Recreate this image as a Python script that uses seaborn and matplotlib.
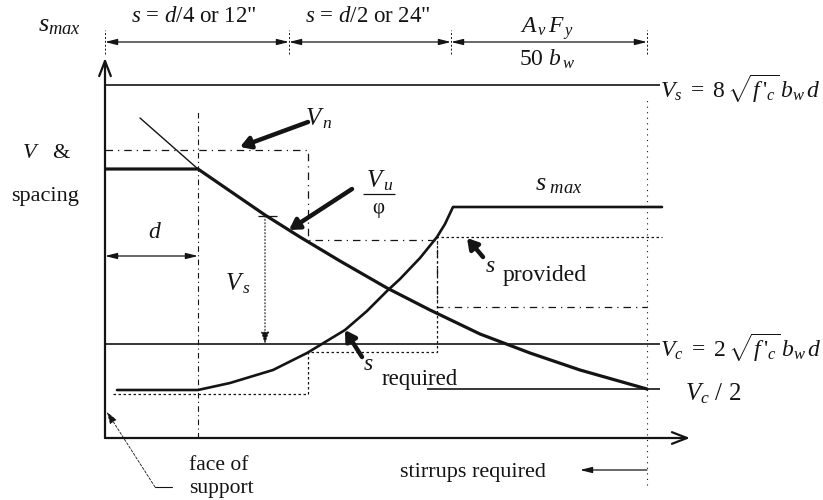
import matplotlib
matplotlib.use("Agg")
import matplotlib.pyplot as plt
import seaborn as sns

# distance along the beam (x) and shear / spacing (y), arbitrary units
vu_x = [0.0, 9.3, 12.5, 16.0, 19.5, 23.5, 28.2, 32.5, 37.5, 42.5, 47.5, 54.2]
vu_y = [26.9, 26.9, 24.7, 22.3, 20.1, 17.7, 15.0, 12.8, 10.4, 8.5, 6.8, 4.9]
vu_ext_x = [3.5, 9.3]
vu_ext_y = [32.0, 26.9]

s_req_x = [1.2, 9.3, 12.5, 16.8, 20.2, 24.0, 26.2, 28.2, 29.5, 31.5, 33.2, 34.0, 34.8, 55.7]
s_req_y = [4.8, 4.8, 5.5, 6.8, 8.5, 10.8, 12.7, 14.7, 15.9, 18.0, 20.1, 21.4, 23.1, 23.1]

vn_x = [0.0, 20.3, 20.3, 33.2, 33.2, 54.2]
vn_y = [28.8, 28.8, 19.8, 19.8, 13.1, 13.1]

s_prov_x = [0.8, 20.3, 20.3, 33.2, 33.2, 55.7]
s_prov_y = [4.4, 4.4, 8.6, 8.6, 20.1, 20.1]

vs_max = 35.3
vc = 9.4
vc_half = 4.9
d_face = 9.3
zone_x = [0.0, 18.4, 34.6, 54.2]
zone_labels = ['$s$ = $d$/4 or 12"', '$s$ = $d$/2 or 24"']
stirrup_end = 54.2

sns.set_theme(style="white")
plt.rcParams["font.family"] = ["Liberation Serif", "DejaVu Serif"]
plt.rcParams["mathtext.fontset"] = "custom"
plt.rcParams["mathtext.rm"] = "Liberation Serif"
plt.rcParams["mathtext.it"] = "Liberation Serif:italic"
plt.rcParams["mathtext.bf"] = "Liberation Serif:bold"

ink = "#141414"
fig = plt.figure(figsize=(8.23, 5.0), dpi=100)
ax = fig.add_axes([105 / 823, 62 / 500, 585 / 823, 380 / 500])
ax.set_xlim(0, 58.5)
ax.set_ylim(0, 38)
ax.axis("off")

# main curves
sns.lineplot(x=vu_x, y=vu_y, sort=False, estimator=None, color=ink, lw=2.3, ax=ax)
sns.lineplot(x=vu_ext_x, y=vu_ext_y, sort=False, estimator=None, color=ink, lw=1.0, ax=ax)
sns.lineplot(x=s_req_x, y=s_req_y, sort=False, estimator=None, color=ink, lw=1.9, ax=ax)
sns.lineplot(x=vn_x, y=vn_y, sort=False, estimator=None, color=ink, lw=0.9,
             linestyle=(0, (6, 4, 1, 4)), ax=ax)
sns.lineplot(x=s_prov_x, y=s_prov_y, sort=False, estimator=None, color=ink, lw=0.9,
             linestyle=(0, (2, 2)), ax=ax)

ax.hlines(vs_max, 0, 55.5, color=ink, lw=1.2)
ax.hlines(vc, 0, 55.5, color=ink, lw=1.2)
ax.hlines(vc_half, 32.2, 55.5, color=ink, lw=1.2)

ax.vlines(d_face, 0, 32.8, color=ink, lw=0.8, linestyles=(0, (5, 3, 1, 3)))
ax.vlines(stirrup_end, -4.7, 33.8, color=ink, lw=0.8, linestyles=(0, (1, 4)), clip_on=False)
ax.vlines(zone_x, 38.4, 40.8, color=ink, lw=0.7, linestyles=(0, (2, 2)), clip_on=False)

# axes arrows
axis_arrow = dict(arrowstyle="->,head_length=0.9,head_width=0.35", lw=1.6, color=ink,
                  shrinkA=0, shrinkB=0)
ax.annotate("", xy=(0, 38), xytext=(0, 0), arrowprops=axis_arrow, annotation_clip=False)
ax.annotate("", xy=(58.5, 0), xytext=(0, 0), arrowprops=axis_arrow, annotation_clip=False)

# top dimension line
dim = dict(arrowstyle="<|-|>,head_length=0.6,head_width=0.15", lw=0.9, color=ink,
           shrinkA=0, shrinkB=0)
for left, right in zip(zone_x[:-1], zone_x[1:]):
    ax.annotate("", xy=(right, 39.6), xytext=(left, 39.6), arrowprops=dim,
                annotation_clip=False)
ax.text((zone_x[0] + zone_x[1]) / 2 - 0.3, 42.1, zone_labels[0], ha="center", va="center",
        fontsize=16.5, color=ink)
ax.text((zone_x[1] + zone_x[2]) / 2 - 0.2, 42.1, zone_labels[1], ha="center", va="center",
        fontsize=16.5, color=ink)
ax.text(44.2, 40.9, r"$A_{\,v}\,F_{\,y}$", ha="center", va="center", fontsize=17, color=ink)
ax.text(44.2, 37.9, r"50 $b_{\,w}$", ha="center", va="center", fontsize=17, color=ink)
ax.text(-4.6, 41.2, "$s_{max}$", ha="center", va="center", fontsize=19, color=ink)

# left labels
ax.text(-5.8, 28.5, "$V$   &", ha="center", va="center", fontsize=16, color=ink)
ax.text(-6.0, 24.1, "spacing", ha="center", va="center", fontsize=16, color=ink)

# right labels
ax.text(55.5, 34.9, r"$V_s\ =\ 8\,\sqrt{f\,'_c}\,b_w\,d$", ha="left", va="center",
        fontsize=17, color=ink)
ax.text(55.5, 9.0, r"$V_c\ =\ 2\,\sqrt{f\,'_c}\,b_w\,d$", ha="left", va="center",
        fontsize=17, color=ink)
ax.text(58.0, 4.4, "$V_c$ / 2", ha="left", va="center", fontsize=18, color=ink)
ax.text(45.4, 25.3, r"$s_{\ max}$", ha="center", va="center", fontsize=19, color=ink)

# d dimension
ax.annotate("", xy=(d_face, 18.2), xytext=(0, 18.2), arrowprops=dim)
ax.text(5.0, 20.5, "$d$", ha="center", va="center", fontsize=17, color=ink)

# Vs dimension
ax.annotate("", xy=(16.0, vc), xytext=(16.0, 22.2),
            arrowprops=dict(arrowstyle="-|>,head_length=0.6,head_width=0.2", lw=0.8,
                            color=ink, linestyle=(0, (1, 2)), shrinkA=0, shrinkB=0))
ax.hlines(22.2, 15.3, 17.2, color=ink, lw=0.9)
ax.text(13.3, 15.4, "$V_{\\,s}$", ha="center", va="center", fontsize=18, color=ink)

# pointer arrows
pointer = dict(arrowstyle="-|>,head_length=0.5,head_width=0.3", lw=3.2, color=ink,
               shrinkA=0, shrinkB=0)
ax.annotate("", xy=(13.5, 29.1), xytext=(20.3, 31.6), arrowprops=pointer)
ax.text(21.4, 31.9, "$V_{\\,n}$", ha="center", va="center", fontsize=18, color=ink)

ax.annotate("", xy=(18.4, 20.8), xytext=(24.7, 24.9), arrowprops=pointer)
ax.text(27.5, 25.7, "$V_{\\,u}$", ha="center", va="center", fontsize=18, color=ink)
ax.hlines(24.4, 25.8, 29.0, color=ink, lw=0.9)
ax.text(27.3, 22.9, "φ", ha="center", va="center", fontsize=15, color=ink)

ax.annotate("", xy=(36.2, 20.0), xytext=(37.8, 18.1), arrowprops=pointer)
ax.text(38.5, 17.1, "$s$", ha="center", va="center", fontsize=17, color=ink)
ax.text(39.8, 16.2, "provided", ha="left", va="center", fontsize=17, color=ink)

ax.annotate("", xy=(24.0, 10.8), xytext=(25.7, 8.1), arrowprops=pointer)
ax.text(26.3, 7.3, "$s$", ha="center", va="center", fontsize=17, color=ink)
ax.text(27.7, 5.8, "required", ha="left", va="center", fontsize=16.5, color=ink)

# face of support leader
ax.annotate("", xy=(0.2, 2.6), xytext=(5.0, -4.9),
            arrowprops=dict(arrowstyle="-|>,head_length=0.6,head_width=0.2", lw=0.6,
                            color=ink, linestyle=(0, (3, 2)), shrinkA=0, shrinkB=0),
            annotation_clip=False)
ax.plot([5.0, 6.7], [-4.9, -4.9], color=ink, lw=0.8, clip_on=False)
ax.text(8.4, -2.7, "face of", ha="left", va="center", fontsize=15.5, color=ink)
ax.text(8.4, -5.0, "support", ha="left", va="center", fontsize=15.5, color=ink)

# stirrups required
ax.annotate("", xy=(47.5, -3.2), xytext=(stirrup_end, -3.2),
            arrowprops=dict(arrowstyle="-|>,head_length=0.6,head_width=0.15", lw=0.9,
                            color=ink, shrinkA=0, shrinkB=0),
            annotation_clip=False)
ax.text(29.5, -3.5, "stirrups required", ha="left", va="center", fontsize=16, color=ink)

fig.savefig("out.png", dpi=100, facecolor="white")
